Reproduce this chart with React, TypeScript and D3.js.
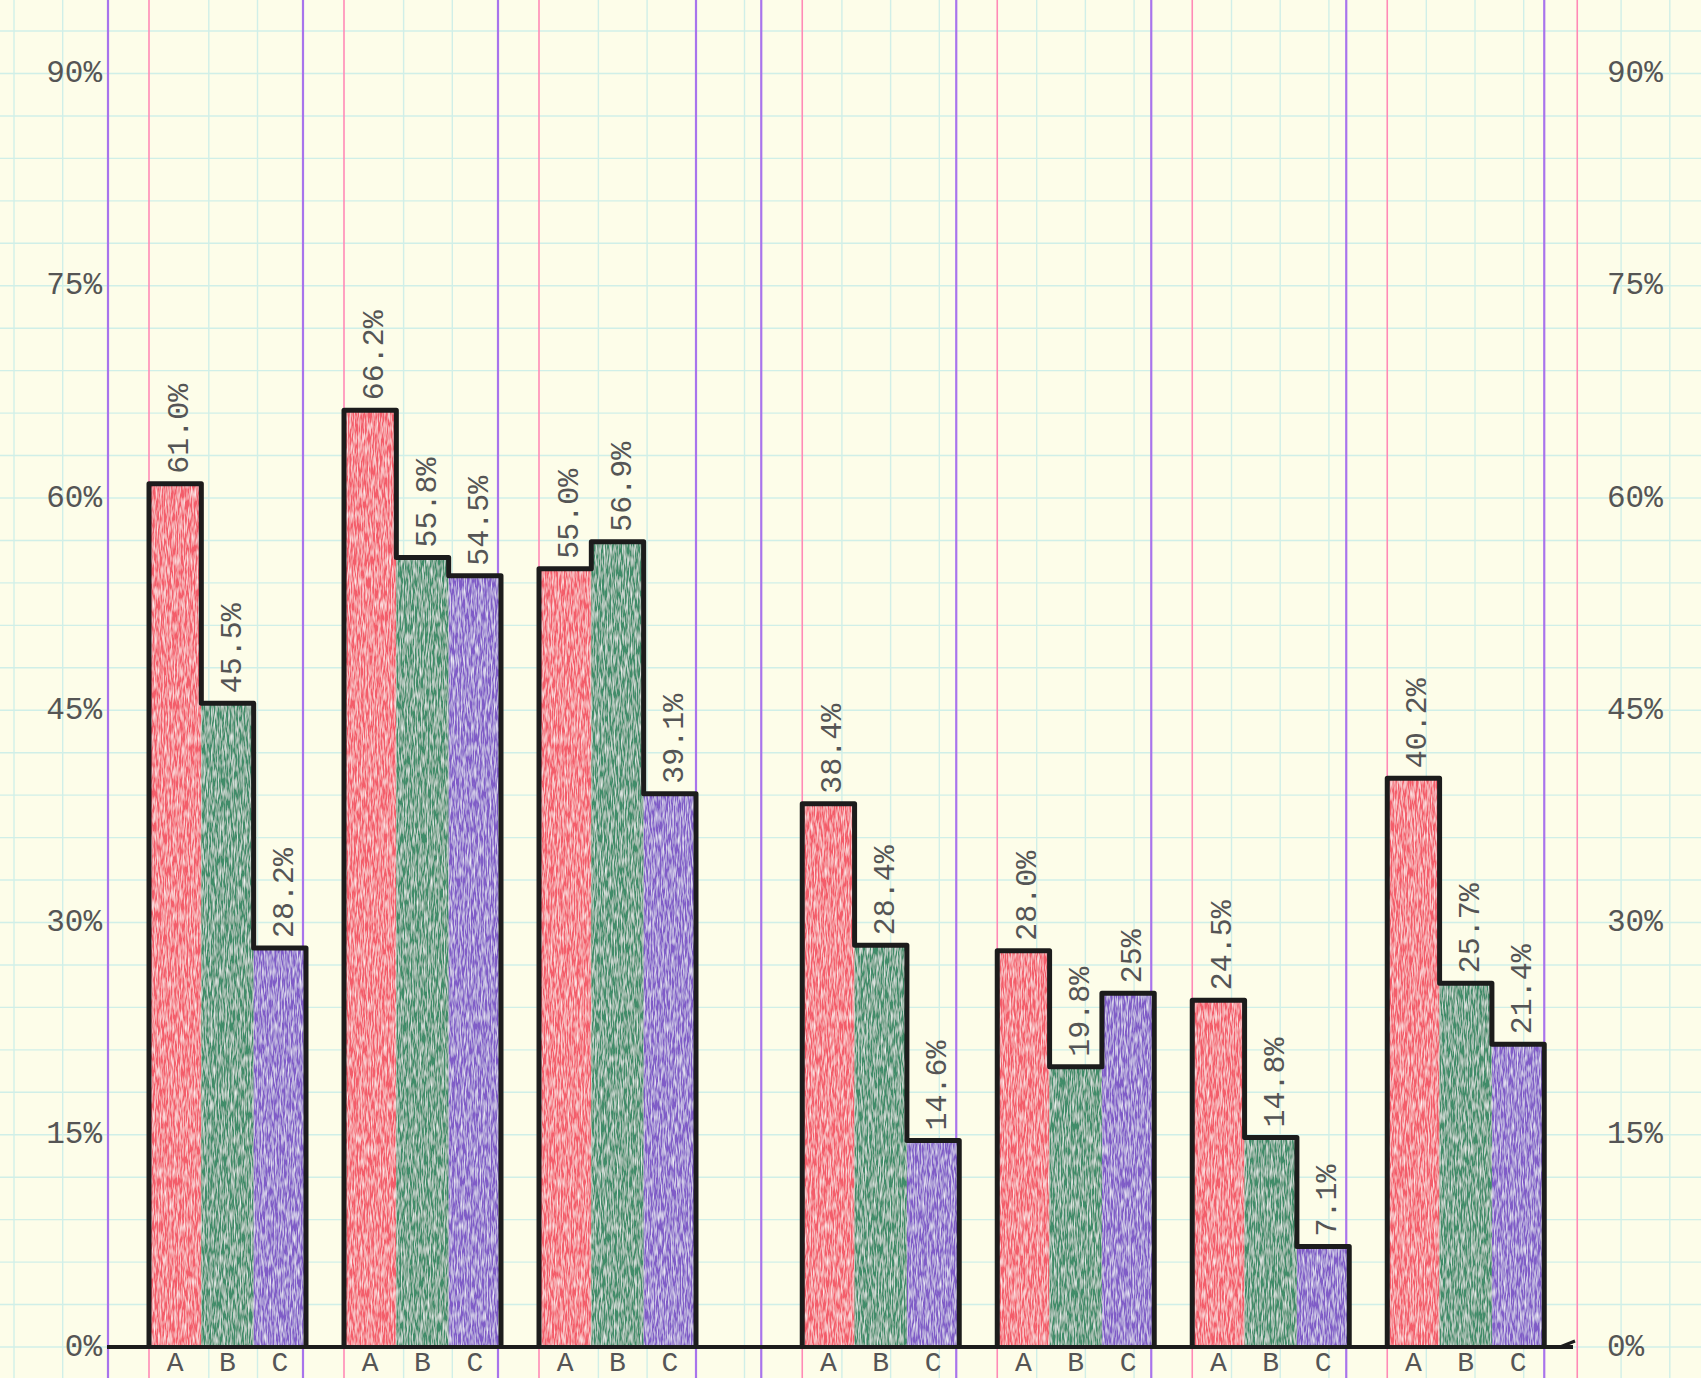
import * as d3 from 'd3';

// chart values
const groups = ['1', '2', '3', '4', '5', '6', '7'];
const series = ['A', 'B', 'C'];
const valuesA = [61.0, 66.2, 55.0, 38.4, 28.0, 24.5, 40.2];
const valuesB = [45.5, 55.8, 56.9, 28.4, 19.8, 14.8, 25.7];
const valuesC = [28.2, 54.5, 39.1, 14.6, 25, 7.1, 21.4];
const labelsA = ['61.0%', '66.2%', '55.0%', '38.4%', '28.0%', '24.5%', '40.2%'];
const labelsB = ['45.5%', '55.8%', '56.9%', '28.4%', '19.8%', '14.8%', '25.7%'];
const labelsC = ['28.2%', '54.5%', '39.1%', '14.6%', '25%', '7.1%', '21.4%'];
const yTicks = [0, 15, 30, 45, 60, 75, 90];

const W = 1701;
const H = 1378;
const base = 1347;
const pxPerPct = 14.15;
const colors: Record<string, string> = { A: '#f35d6b', B: '#418c69', C: '#7f5cc7' };
const paper = '#fdfde9';
const cyan = '#d0efe8';
const ruleViolet = '#a874ec';
const rulePink = '#ff8ab6';
const ink = '#555555';
const font = "'Liberation Mono', 'Courier New', monospace";

// groups sit on paper columns; one extra empty stretch after the 3rd group
const slot = (i: number) => i + (i >= 3 ? 0.35 : 0);
const groupW = 157;

const App = () => {
  const y = d3.scaleLinear().domain([0, 90]).range([base, base - 90 * pxPerPct]);
  const xSlot = d3.scaleLinear().domain([0, 1]).range([149, 344]);
  const inner = d3.scaleBand<string>().domain(series).range([0, groupW]).paddingInner(0);

  const vals: Record<string, number[]> = { A: valuesA, B: valuesB, C: valuesC };
  const labs: Record<string, string[]> = { A: labelsA, B: labelsB, C: labelsC };

  const starts = groups.map((_, i) => xSlot(slot(i)));

  // paper rulings
  const violetRaw = starts.flatMap((s) => [s - 41, s + groupW]);
  const violet: number[] = [];
  violetRaw
    .sort((a, b) => a - b)
    .forEach((v) => {
      if (!violet.length || v - violet[violet.length - 1] > 12) violet.push(v);
    });
  const pink = [...starts, starts[starts.length - 1] + groupW + 33];
  const ruled = [...violet, ...pink];
  const cyanX = d3.range(14, W, 48.7).filter((c) => ruled.every((r) => Math.abs(r - c) > 16));
  const cyanY = d3.range(0, 99, 3).map((v) => y(v));

  const line = d3.line<[number, number]>();

  return (
    <svg
      width={W}
      height={H}
      viewBox={`0 0 ${W} ${H}`}
      style={{ position: 'absolute', left: 0, top: 0, background: paper }}
    >
      <defs>
        <filter id="pencil" x="0" y="0" width="100%" height="100%">
          <feTurbulence type="fractalNoise" baseFrequency="0.7 0.09" numOctaves="2" seed="4" result="noise" />
          <feColorMatrix
            in="noise"
            type="matrix"
            values="0 0 0 0 1  0 0 0 0 1  0 0 0 0 1  0 0 0 -1.7 1.05"
            result="speck"
          />
          <feComposite in="speck" in2="SourceGraphic" operator="in" result="speckIn" />
          <feMerge>
            <feMergeNode in="SourceGraphic" />
            <feMergeNode in="speckIn" />
          </feMerge>
        </filter>
      </defs>
      <rect width={W} height={H} fill={paper} />

      {/* graph paper */}
      <g stroke={cyan} strokeWidth={1.4}>
        {cyanY.map((v, i) => (
          <line key={'h' + i} x1={0} x2={W} y1={v} y2={v} />
        ))}
        {cyanX.map((v, i) => (
          <line key={'v' + i} x1={v} x2={v} y1={0} y2={H} />
        ))}
      </g>
      <g strokeWidth={2.2}>
        {violet.map((v, i) => (
          <line key={'p' + i} x1={v} x2={v} y1={0} y2={H} stroke={ruleViolet} />
        ))}
        {pink.map((v, i) => (
          <line key={'k' + i} x1={v} x2={v} y1={0} y2={H} stroke={rulePink} strokeWidth={1.6} />
        ))}
      </g>

      {/* bars */}
      <g filter="url(#pencil)">
        {groups.map((g, gi) =>
          series.map((s) => (
            <rect
              key={g + s}
              x={starts[gi] + (inner(s) as number)}
              y={y(vals[s][gi])}
              width={inner.bandwidth()}
              height={base - y(vals[s][gi])}
              fill={colors[s]}
            />
          ))
        )}
      </g>

      {/* skyline outlines */}
      <g fill="none" stroke="#1c1c1c" strokeWidth={5} strokeLinejoin="round">
        {groups.map((g, gi) => {
          const pts: [number, number][] = [[starts[gi], base]];
          series.forEach((s) => {
            const x0 = starts[gi] + (inner(s) as number);
            pts.push([x0, y(vals[s][gi])]);
            pts.push([x0 + inner.bandwidth(), y(vals[s][gi])]);
          });
          pts.push([starts[gi] + groupW, base]);
          return <path key={'o' + g} d={line(pts) as string} />;
        })}
      </g>

      {/* baseline */}
      <line x1={107} x2={1573} y1={base} y2={base} stroke="#1c1c1c" strokeWidth={4} />
      <path d={`M1560,${base} L1575,${base - 6}`} stroke="#1c1c1c" strokeWidth={3} fill="none" />

      {/* value labels */}
      <g fontFamily={font} fontSize={30} fill={ink}>
        {groups.map((g, gi) =>
          series.map((s) => {
            const cx = starts[gi] + (inner(s) as number) + inner.bandwidth() / 2 + 5;
            const cy = y(vals[s][gi]) - 10;
            return (
              <text
                key={'l' + g + s}
                transform={`translate(${cx},${cy}) rotate(-90)`}
                dominantBaseline="central"
                textAnchor="start"
              >
                {labs[s][gi]}
              </text>
            );
          })
        )}
      </g>

      {/* category letters */}
      <g fontFamily={font} fontSize={28} fill={ink} textAnchor="middle">
        {groups.map((g, gi) =>
          series.map((s) => (
            <text key={'c' + g + s} x={starts[gi] + (inner(s) as number) + inner.bandwidth() / 2} y={1371}>
              {s}
            </text>
          ))
        )}
      </g>

      {/* y axis labels, both sides */}
      <g fontFamily={font} fontSize={31} fill={ink}>
        {yTicks.map((t) => (
          <text key={'yl' + t} x={102} y={y(t)} dominantBaseline="central" textAnchor="end">
            {t + '%'}
          </text>
        ))}
        {yTicks.map((t) => (
          <text key={'yr' + t} x={1607} y={y(t)} dominantBaseline="central" textAnchor="start">
            {t + '%'}
          </text>
        ))}
      </g>
    </svg>
  );
};

export default App;
